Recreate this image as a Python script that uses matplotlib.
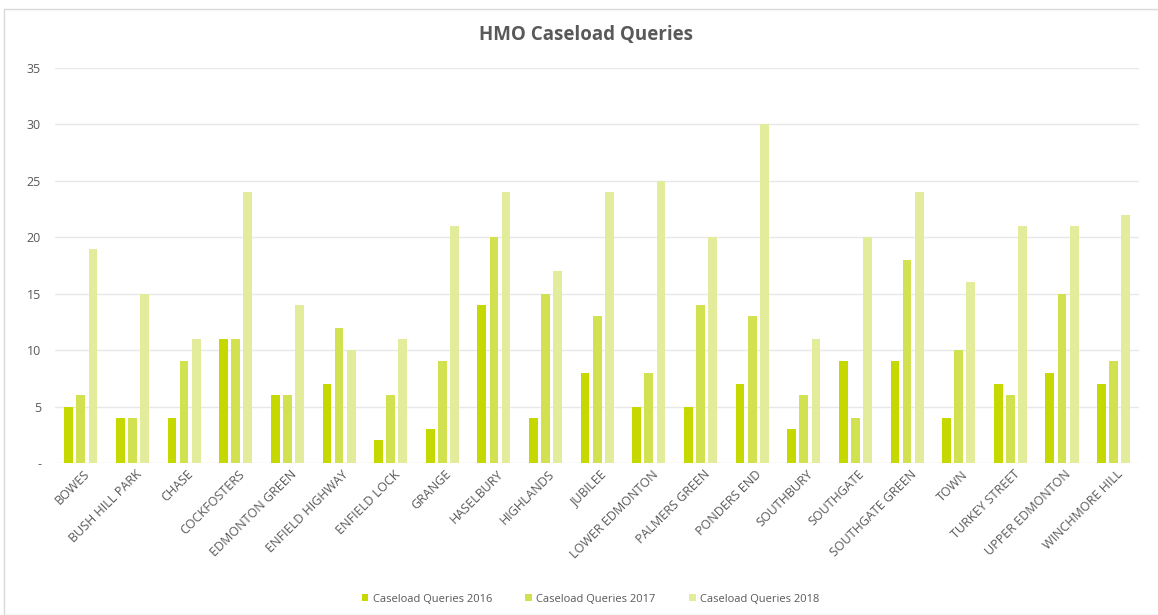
import matplotlib.pyplot as plt
import numpy as np
from matplotlib.patches import Rectangle

plt.rcParams['font.family'] = ['Open Sans', 'DejaVu Sans']

wards = ['BOWES', 'BUSH HILL PARK', 'CHASE', 'COCKFOSTERS', 'EDMONTON GREEN',
         'ENFIELD HIGHWAY', 'ENFIELD LOCK', 'GRANGE', 'HASELBURY', 'HIGHLANDS',
         'JUBILEE', 'LOWER EDMONTON', 'PALMERS GREEN', 'PONDERS END', 'SOUTHBURY',
         'SOUTHGATE', 'SOUTHGATE GREEN', 'TOWN', 'TURKEY STREET', 'UPPER EDMONTON',
         'WINCHMORE HILL']
queries_2016 = [5, 4, 4, 11, 6, 7, 2, 3, 14, 4, 8, 5, 5, 7, 3, 9, 9, 4, 7, 8, 7]
queries_2017 = [6, 4, 9, 11, 6, 12, 6, 9, 20, 15, 13, 8, 14, 13, 6, 4, 18, 10, 6, 15, 9]
queries_2018 = [19, 15, 11, 24, 14, 10, 11, 21, 24, 17, 24, 25, 20, 30, 11, 20, 24, 16, 21, 21, 22]
y_ticks = [0, 5, 10, 15, 20, 25, 30, 35]
y_tick_labels = ['-', '5', '10', '15', '20', '25', '30', '35']

fig = plt.figure(figsize=(11.58, 6.15), dpi=100)
# light chart-area border
fig.patches.append(Rectangle((4 / 1158, 0), 1.0, 1 - 9 / 615, transform=fig.transFigure,
                             fill=False, edgecolor='#D9D9D9', linewidth=1))
ax = fig.add_axes([0.0475, 0.2472, 0.9365, 0.6422])

x = np.arange(len(wards))
w = 0.17
off = 0.235
ax.bar(x - off, queries_2016, w, color='#C5D900', label='Caseload Queries 2016', zorder=3)
ax.bar(x, queries_2017, w, color='#D2E150', label='Caseload Queries 2017', zorder=3)
ax.bar(x + off, queries_2018, w, color='#E3EC9B', label='Caseload Queries 2018', zorder=3)

ax.set_xlim(-0.5, len(wards) - 0.5)
ax.set_ylim(0, 35)
ax.set_yticks(y_ticks)
ax.set_yticklabels(y_tick_labels)
ax.yaxis.grid(True, color='#E8E8E8', linewidth=1, zorder=0)
for s in ax.spines.values():
    s.set_visible(False)
ax.tick_params(axis='both', length=0, colors='#595959', labelsize=9)
ax.tick_params(axis='y', pad=10)
ax.set_xticks(x + 0.05)
ax.set_xticklabels(wards, rotation=45, ha='right', rotation_mode='anchor')

ax.set_title('HMO Caseload Queries', fontsize=13.5, fontweight='bold', color='#595959',
             pad=20, x=0.49)

fig.legend(loc='center', bbox_to_anchor=(0.51, 1 - 599 / 615), ncol=3, frameon=False,
           fontsize=8, handlelength=0.6, handleheight=0.6, columnspacing=3,
           handletextpad=0.4, labelcolor='#595959')

fig.savefig('out.png', dpi=100)
